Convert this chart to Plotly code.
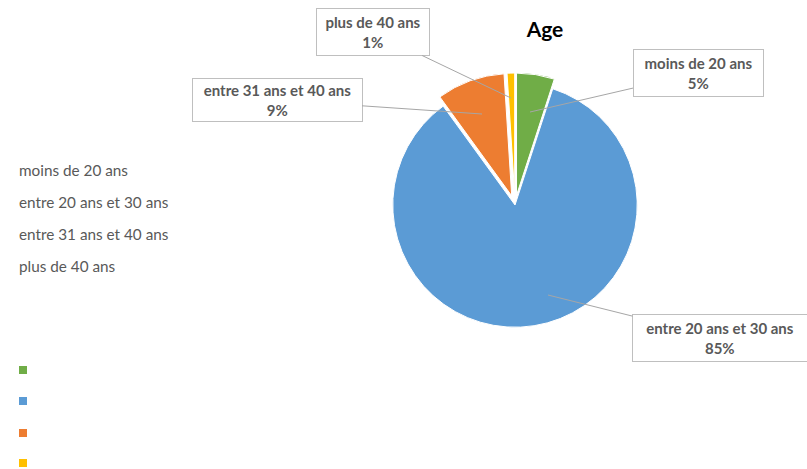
import plotly.graph_objects as go

W, H = 807, 469

categories = ["moins de 20 ans", "entre 20 ans et 30 ans", "entre 31 ans et 40 ans", "plus de 40 ans"]
values = [5, 85, 9, 1]
colors = ["#70AD47", "#5B9BD5", "#ED7D31", "#FFC000"]
pulls = [0.08, 0, 0.08, 0.08]

# label box placement (pixel centre of box, pixel target point, box size)
box_centers = [(698, 73), (720, 338), (277, 100), (373, 32)]
targets = [(530, 112), (548, 295), (482, 114), (511, 98)]
box_sizes = [(127, 44), (172, 44), (167, 40), (110, 44)]

legend_text_y = [170, 202, 234, 266]
legend_square_y = [370, 401, 433, 463]

fig = go.Figure(go.Pie(
    labels=categories,
    values=values,
    marker=dict(colors=colors, line=dict(color="white", width=1)),
    pull=pulls,
    sort=False,
    direction="clockwise",
    rotation=0,
    textinfo="none",
    hoverinfo="label+percent",
    showlegend=False,
    domain=dict(x=[(515 - 132) / W, (515 + 132) / W], y=[1 - 337 / H, 1 - 73 / H]),
))

total = sum(values)
annotations = []
for cat, v, (bx, by), (tx, ty), (bw, bh) in zip(categories, values, box_centers, targets, box_sizes):
    pct = round(100 * v / total)
    annotations.append(dict(
        x=tx / W, y=1 - ty / H, xref="paper", yref="paper",
        ax=bx - tx, ay=by - ty, axref="pixel", ayref="pixel",
        text=f"<b>{cat}</b><br><b>{pct}%</b>",
        showarrow=True, arrowhead=0, arrowwidth=1, arrowcolor="#A6A6A6",
        bgcolor="white", bordercolor="#BFBFBF", borderwidth=1,
        width=bw, height=bh,
        font=dict(family="Lato, Calibri, sans-serif", size=15, color="#595959"),
        align="center",
    ))

for cat, y in zip(categories, legend_text_y):
    annotations.append(dict(
        x=17 / W, y=1 - y / H, xref="paper", yref="paper",
        xanchor="left", yanchor="middle", showarrow=False,
        text=cat, font=dict(family="Lato, Calibri, sans-serif", size=15.3, color="#595959"),
    ))

shapes = []
for c, y in zip(colors, legend_square_y):
    shapes.append(dict(
        type="rect", xref="paper", yref="paper",
        x0=19 / W, x1=27 / W, y0=1 - (y + 4) / H, y1=1 - (y - 4) / H,
        fillcolor=c, line=dict(width=0),
    ))

fig.update_layout(
    width=W, height=H,
    margin=dict(l=0, r=0, t=0, b=0),
    paper_bgcolor="white", plot_bgcolor="white",
    title=dict(text="<b>Age</b>", x=545 / W, xanchor="center", y=1 - 30 / H, yanchor="middle",
               font=dict(family="Lato, Calibri, sans-serif", size=21, color="black")),
    annotations=annotations,
    shapes=shapes,
)

fig.write_html("out.html")
